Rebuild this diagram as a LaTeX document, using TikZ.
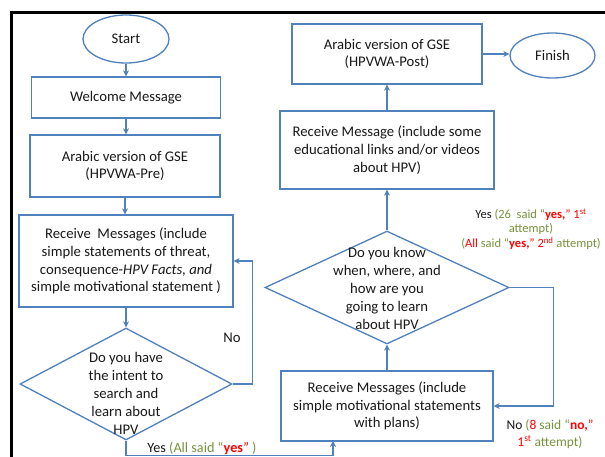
\documentclass[tikz,border=0pt]{standalone}
\usepackage{fontspec}
\setmainfont{Carlito}
\usetikzlibrary{shapes.geometric,arrows.meta}
\definecolor{lineblue}{RGB}{79,129,189}
\definecolor{txtgreen}{RGB}{119,147,60}
\definecolor{txtred}{RGB}{255,0,0}
\begin{document}
\begin{tikzpicture}[x=1pt,y=-1pt,
  box/.style={draw=lineblue, line width=1.3pt, fill=white, align=center, inner sep=0pt,
    font=\fontsize{14.7}{17.7}\selectfont, text=black!90},
  term/.style={ellipse, draw=lineblue, line width=1.3pt, fill=white, inner sep=0pt,
    font=\fontsize{14.7}{17.7}\selectfont, text=black!90},
  decision/.style={diamond, draw=lineblue, line width=1.3pt, inner sep=0pt},
  dtext/.style={align=center, inner sep=0pt, font=\fontsize{14.7}{18}\selectfont, text=black!90},
  lbl/.style={align=center, inner sep=0pt, font=\fontsize{12.5}{14.5}\selectfont, text=black!90},
  arr/.style={draw=lineblue, line width=1.3pt, -{Stealth[length=6pt,width=6pt]}},
  conn/.style={draw=lineblue, line width=1.3pt}]
\useasboundingbox (0,0) rectangle (605,456);
\fill[white] (0,0) rectangle (605,456);
\draw[line width=3pt] (11.5,470) -- (11.5,12.5) -- (620,12.5);

% left column
\node[term, minimum width=86pt, minimum height=48pt] (start) at (126,39) {Start};
\node[box, minimum width=189pt, minimum height=41pt] (welcome) at (126,97.5) {Welcome Message};
\node[box, minimum width=190pt, minimum height=62pt] (pre) at (125,166) {Arabic version of GSE\\(HPVWA-Pre)};
\node[box, minimum width=214pt, minimum height=92pt] (recv1) at (126,261)
  {Receive~ Messages (include\\simple statements of threat,\\consequence-\textit{HPV Facts, and}\\simple motivational statement )};
\node[decision, minimum width=212pt, minimum height=112pt] (d1) at (126,384) {};
\node[dtext] (d1t) at (126,393) {Do you have\\the intent to\\search and\\learn about\\HPV};

% right column
\node[box, minimum width=212pt, minimum height=70pt] (recv3) at (387,406)
  {Receive Messages (include\\simple motivational statements\\with plans)};
\node[decision, minimum width=244pt, minimum height=113pt] (d2) at (387,287.5) {};
\node[dtext] (d2t) at (387,288) {Do you know\\when, where, and\\how are you\\going to learn\\about HPV};
\node[box, minimum width=214pt, minimum height=78pt] (recv2) at (387,150)
  {Receive Message (include some\\educational links and/or videos\\about HPV)};
\node[box, minimum width=190pt, minimum height=60pt] (post) at (387,54) {Arabic version of GSE\\(HPVWA-Post)};
\node[term, minimum width=85pt, minimum height=45pt] (finish) at (552.5,55.5) {Finish};

% connectors
\draw[arr] (start.south) -- (start.south |- welcome.north);
\draw[arr] (welcome.south) -- (welcome.south |- pre.north);
\draw[arr] (pre.south) -- (pre.south |- recv1.north);
\draw[arr] (recv1.south) -- (recv1.south |- d1.north);
\draw[arr] (d1.east) -- ++(20,0) |- (recv1.east);
\coordinate (r3in) at (333,441);
\draw[arr] (d1.south) -- ++(0,15) -| (r3in);
\draw[arr] (recv3.north) -- (d2.south);
\draw[arr] (d2.east) -- ++(44,0) |- (recv3.east);
\draw[arr] (d2.north) -- (recv2.south);
\draw[arr] (recv2.north) -- (post.south);
\draw[arr] (post.east) -- (post.east -| finish.west);

% labels
\node[lbl, font=\fontsize{14.7}{17}\selectfont] (nolbl1) at (232,338) {No};
\node[lbl, font=\fontsize{14.2}{17}\selectfont] (yeslbl1) at (202,448)
  {Yes {\color{txtgreen}(All said ``}{\color{txtred}\textbf{yes}''} {\color{txtgreen})}};
\node[lbl] (yeslbl2) at (531,229)
  {Yes {\color{txtgreen}(26~ said ``}{\color{txtred}\textbf{yes,}'' 1\textsuperscript{st}}\\
   {\color{txtgreen}attempt)}\\
   {\color{txtgreen}(}{\color{txtred}All} {\color{txtgreen}said ``}{\color{txtred}\textbf{yes,}'' 2\textsuperscript{nd}} {\color{txtgreen}attempt)}};
\node[lbl, font=\fontsize{13.5}{17}\selectfont] (nolbl2) at (550,434)
  {No {\color{txtgreen}(}{\color{txtred}8} {\color{txtgreen}said ``}{\color{txtred}\textbf{no,}''}\\
   {\color{txtred}1\textsuperscript{st}} {\color{txtgreen}attempt)}};
\end{tikzpicture}
\end{document}
